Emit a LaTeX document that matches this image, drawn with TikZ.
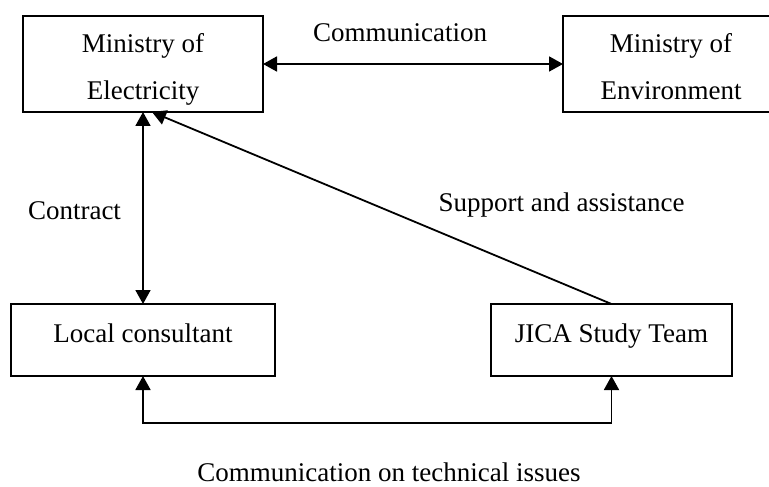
\documentclass[tikz,border=0pt]{standalone}
\usepackage{fontspec}
\setmainfont{Liberation Serif}
\usepackage{tikz}
\usetikzlibrary{arrows.meta}
\usetikzlibrary{positioning}

\begin{document}
\begin{tikzpicture}[x=0.5pt, y=-0.5pt, >={Triangle[length=7pt, width=7.5pt]}, line width=0.9pt]
    \tikzstyle{every node}=[font=\fontsize{13.5}{23.5}\selectfont];
    \tikzstyle{org}=[draw, inner sep=0pt, outer sep=0pt];
    \tikzstyle{twoline}=[org, text height=42pt, text depth=6pt];
    \tikzstyle{oneline}=[org, text height=19pt, text depth=17pt];
    \useasboundingbox (0,0) rectangle (769,486);
    \node[twoline, minimum width=120pt] (elec) at (143, 64) {
    \begin{tabular}[b]{c}
    Ministry of\\
    Electricity
    \end{tabular}
    };
    \node[twoline, minimum width=108pt] (env) at (671, 64) {
    \begin{tabular}[b]{c}
    Ministry of\\
    Environment
    \end{tabular}
    };
    \node[oneline, minimum width=132pt] (local) at (143, 340) {Local consultant};
    \node[oneline, minimum width=120.5pt] (jica) at (611.5, 340) {JICA Study Team};
    \node[anchor=base] (comm) at (400, 42) {Communication};
    \node[anchor=base] (contract) at (74.5, 219) {Contract};
    \node[anchor=base] (support) at (561.5, 212) {Support and assistance};
    \node[anchor=base] (tech) at (389, 481) {Communication on technical issues};
    \path[draw] [<->] (elec) -- (env);
    \path[draw] [<->] (elec) -- (local);
    \path[draw] [->] (jica.north) -- ([xshift=4.5pt]elec.south);
    \path[draw] [<->] (local.south) -- ++(0, 47) -| (jica.south);
\end{tikzpicture}
\end{document}
